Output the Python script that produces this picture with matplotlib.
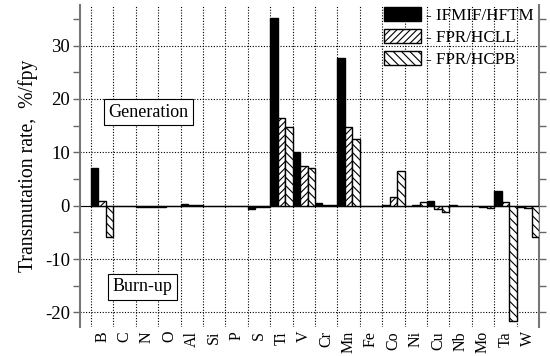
import numpy as np
import matplotlib
matplotlib.use("Agg")
import matplotlib.pyplot as plt
from matplotlib.ticker import MultipleLocator

plt.rcParams["font.family"] = "Liberation Serif"
plt.rcParams["axes.unicode_minus"] = False
plt.rcParams["hatch.linewidth"] = 0.8

elements = ["B", "C", "N", "O", "Al", "Si", "P", "S", "Ti", "V",
            "Cr", "Mn", "Fe", "Co", "Ni", "Cu", "Nb", "Mo", "Ta", "W"]
ifmif = [7.0, -0.1, -0.3, -0.2, 0.4, -0.1, -0.1, -0.6, 35.2, 10.0,
         0.5, 27.6, -0.1, 0.1, -0.1, 0.8, 0.1, -0.1, 2.8, -0.2]
hcll = [0.8, -0.1, -0.2, -0.1, 0.1, -0.1, 0.0, -0.2, 16.4, 7.4,
        0.1, 14.8, -0.1, 1.6, 0.1, -0.6, 0.0, -0.2, 0.7, -0.4]
hcpb = [-5.8, -0.1, -0.2, -0.1, 0.1, -0.1, 0.0, -0.2, 14.8, 7.0,
        0.1, 12.4, -0.1, 6.5, 0.6, -1.1, 0.0, -0.4, -21.6, -5.9]

fig = plt.figure(figsize=(5.5, 3.56), dpi=100)
ax = fig.add_axes([0.145, 0.082, 0.835, 0.904])

x = np.arange(len(elements))
w = 1 / 3
ax.bar(x + w / 2, ifmif, w, color="black", edgecolor="black", lw=1.0,
       label="- IFMIF/HFTM", zorder=3)
ax.bar(x + 3 * w / 2, hcll, w, color="white", edgecolor="black", lw=1.0,
       hatch="/////", label="- FPR/HCLL", zorder=3)
ax.bar(x + 5 * w / 2, hcpb, w, color="white", edgecolor="black", lw=1.0,
       hatch="\\\\\\\\", label="- FPR/HCPB", zorder=3)
ax.axhline(0, color="black", lw=0.8, zorder=2)

ax.set_xlim(-0.5, 20)
ax.set_ylim(-22.7, 37.6)
ax.set_xticks(x + 0.5)
ax.set_xticklabels(elements, rotation=90, fontsize=11.5)
ax.tick_params(axis="x", length=0, pad=3)
ax.set_xticks(x, minor=True)
ax.grid(True, which="minor", axis="x", color="black", ls=(0, (1, 1.5)), lw=0.8)
ax.grid(True, which="major", axis="y", color="black", ls=(0, (1, 1.5)), lw=0.8)

ax.yaxis.set_major_locator(MultipleLocator(10))
ax.yaxis.set_minor_locator(MultipleLocator(5))
ax.tick_params(axis="y", which="both", direction="out", length=5, width=1,
               color="#666666", labelsize=13.5, right=True, pad=2)
ax.tick_params(axis="x", which="minor", length=0)
for s in ["top", "bottom"]:
    ax.spines[s].set_visible(False)
for s in ["left", "right"]:
    ax.spines[s].set_color("#777777")
    ax.spines[s].set_linewidth(1.5)

ax.set_ylabel("Transmutation rate,  %/fpy", fontsize=14.2, labelpad=5)

box = dict(boxstyle="square,pad=0.25", fc="white", ec="black", lw=0.8)
ax.text(2.55, 17.5, "Generation", fontsize=13, ha="center", va="center",
        bbox=box, zorder=5)
ax.text(2.3, -15.2, "Burn-up", fontsize=13, ha="center", va="center",
        bbox=box, zorder=5)

ax.legend(loc="upper right", bbox_to_anchor=(1.0, 1.01), frameon=False,
          fontsize=12.3, handlelength=2.15, handleheight=0.9,
          handletextpad=0.3, labelspacing=0.3, borderpad=0.2,
          borderaxespad=0.1)

fig.savefig("out.png", dpi=100)
